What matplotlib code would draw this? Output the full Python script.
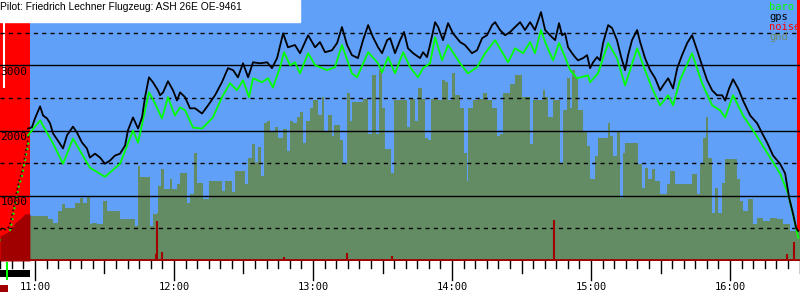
"""Flight log barogram: gps / baro altitude, terrain and engine noise."""

import matplotlib

matplotlib.use("Agg")
import matplotlib.pyplot as plt
from matplotlib.patches import Rectangle

# all times are minutes after 11:00, altitudes in metres
title = "Pilot: Friedrich Lechner Flugzeug: ASH 26E OE-9461"

gps_t = [
    -3.0, -1.3, 0.0, 2.2, 3.5, 5.2, 6.5, 7.8, 9.9, 12.1,
    13.8, 16.4, 18.1, 20.3, 22.4, 23.7, 25.9, 28.1, 30.2, 32.4,
    34.5, 36.7, 38.9, 40.1, 42.3, 44.5, 46.2, 47.5, 49.2, 50.9,
    53.1, 54.0, 55.3, 57.4, 59.6, 61.3, 62.6, 64.8, 66.9, 69.1,
    72.1, 74.7, 77.7, 80.7, 83.3, 85.5, 87.6, 89.8, 92.0, 94.1,
    97.1, 100.2, 102.3, 104.5, 107.1, 109.2, 112.2, 114.4, 117.9, 120.9,
    123.0, 125.2, 128.2, 130.4, 132.5, 134.7, 136.8, 139.4, 141.6, 143.8,
    145.9, 148.1, 149.8, 152.0, 153.3, 155.4, 157.6, 159.3, 161.0, 163.2,
    166.2, 167.5, 169.2, 170.5, 172.7, 174.0, 176.1, 178.3, 180.4, 183.5,
    185.6, 188.6, 190.8, 193.0, 195.1, 197.3, 198.6, 200.7, 202.9, 205.1,
    207.2, 209.4, 211.5, 213.7, 215.8, 218.4, 220.2, 222.3, 224.5, 226.2,
    227.5, 228.8, 230.1, 231.8, 233.1, 234.4, 236.6, 238.3, 239.6, 240.9,
    242.6, 243.9, 245.2, 247.4, 249.1, 251.2, 253.0, 254.7, 256.0, 257.7,
    259.9, 261.2, 263.3, 265.5, 267.7, 269.8, 271.1, 273.3, 275.4, 277.2,
    279.3, 281.5, 283.6, 285.8, 287.9, 290.1, 292.3, 294.4, 296.6, 297.9,
    299.6, 301.3, 303.5, 305.6, 308.7, 311.7, 313.9, 316.0, 318.6, 321.6,
    323.8, 325.5, 327.2, 328.5, 329.4,
]
gps_alt = [
    2030, 2050, 2185, 2370, 2230, 2185, 2110, 1955, 1845, 1725,
    1925, 2060, 1970, 1815, 1725, 1585, 1645, 1585, 1490, 1540,
    1615, 1645, 1770, 2000, 2200, 2030, 2200, 2510, 2815, 2740,
    2615, 2540, 2585, 2755, 2615, 2460, 2585, 2510, 2340, 2340,
    2260, 2385, 2540, 2740, 2955, 2925, 2815, 3030, 2815, 3045,
    3030, 3045, 2955, 3110, 3490, 3275, 3310, 3185, 3460, 3275,
    3355, 3200, 3230, 3340, 3585, 3310, 3155, 3110, 3385, 3615,
    3430, 3275, 3185, 3385, 3415, 3185, 3385, 3510, 3260, 3185,
    3110, 3200, 3125, 3310, 3660, 3585, 3385, 3645, 3490, 3355,
    3310, 3185, 3230, 3415, 3460, 3615, 3660, 3540, 3460, 3510,
    3585, 3660, 3540, 3660, 3540, 3815, 3540, 3460, 3385, 3645,
    3460, 3490, 3275, 3185, 3125, 3075, 3110, 3155, 2955, 3045,
    3125, 3075, 3340, 3615, 3570, 3385, 3125, 2925, 3155, 3385,
    3540, 3355, 3110, 2925, 2800, 2615, 2690, 2800, 2645, 2955,
    3155, 3340, 3460, 3230, 3000, 2770, 2615, 2540, 2540, 2460,
    2645, 2785, 2645, 2460, 2230, 2110, 1955, 1815, 1615, 1490,
    1340, 970, 725, 510, 460,
]

baro_t = [
    -3.0, 2.2, 7.8, 12.1, 16.4, 23.7, 30.2, 36.7, 42.3, 44.5,
    49.2, 51.8, 54.8, 57.4, 60.4, 62.6, 64.8, 68.2, 72.1, 76.8,
    80.7, 84.2, 87.2, 89.8, 92.4, 94.1, 98.0, 100.6, 102.7, 105.8,
    107.5, 110.1, 112.2, 114.4, 117.9, 120.9, 126.1, 129.5, 132.5, 136.8,
    139.0, 143.8, 148.1, 149.8, 152.4, 155.4, 158.9, 161.9, 165.3, 167.5,
    170.5, 172.7, 175.7, 178.3, 183.5, 186.9, 190.8, 194.3, 198.6, 204.2,
    207.2, 210.7, 213.7, 215.8, 218.4, 220.2, 223.6, 226.2, 228.8, 231.0,
    234.0, 238.7, 239.6, 243.0, 247.4, 251.2, 254.7, 259.9, 263.3, 266.4,
    269.8, 273.3, 275.4, 278.4, 283.6, 287.9, 292.3, 295.7, 297.9, 301.3,
    305.6, 310.0, 316.0, 321.6, 325.1, 328.1, 329.4,
]
baro_alt = [
    1925, 2155, 1800, 1490, 1875, 1430, 1290, 1490, 2000, 1815,
    2585, 2415, 2185, 2510, 2230, 2355, 2310, 2045, 2030, 2200,
    2510, 2725, 2615, 2770, 2510, 2800, 2740, 2800, 2660, 2970,
    3200, 3000, 3045, 2875, 3185, 3000, 2925, 2970, 3310, 2875,
    2815, 3200, 3030, 2890, 3125, 2875, 3200, 2970, 2815, 2955,
    3030, 3430, 3075, 3310, 3030, 2875, 2970, 3185, 3385, 3045,
    3260, 3185, 3355, 3185, 3540, 3355, 3075, 3340, 3125, 2925,
    2800, 2845, 2740, 2875, 3340, 3110, 2690, 3260, 2925, 2645,
    2385, 2540, 2385, 2770, 3185, 2725, 2385, 2310, 2200, 2540,
    2230, 2000, 1660, 1340, 1030, 570, 355,
]

# engine climb before release (sparse fixes)
climb_t = [-15.1, -12.1, -10.8, -9.5, -8.2, -6.9, -5.6, -4.3, -3.5, -2.6]
climb_baro = [320, 320, 460, 690, 925, 1155, 1310, 1540, 1690, 1845]
climb_gps = [480, 480, 560, 770, 1000, 1230, 1380, 1620, 1770, 1950]

gnd_t = [
    -2.2, 5.6, 7.8, 9.9, 11.7, 13.0, 17.3, 19.4, 20.7, 22.4,
    23.7, 24.6, 26.8, 29.4, 31.1, 36.7, 43.2, 44.5, 45.3, 49.6,
    50.9, 52.7, 53.1, 54.4, 55.7, 58.3, 59.1, 61.3, 62.6, 65.6,
    66.9, 68.6, 69.9, 72.5, 75.1, 80.7, 82.0, 85.0, 86.3, 90.7,
    92.0, 93.7, 95.0, 96.3, 97.6, 98.9, 100.2, 101.4, 103.6, 104.9,
    107.1, 108.8, 110.1, 111.4, 113.1, 114.4, 115.7, 117.0, 118.7, 120.0,
    122.2, 123.9, 124.8, 126.5, 128.2, 129.1, 131.7, 133.0, 134.7, 136.0,
    136.8, 141.6, 143.8, 145.5, 147.2, 148.5, 149.8, 151.1, 153.7, 155.0,
    160.6, 161.9, 164.0, 165.3, 167.1, 168.4, 169.7, 171.0, 174.0, 175.7,
    177.0, 178.3, 180.0, 181.3, 183.5, 185.2, 186.5, 186.9, 189.1, 191.2,
    193.4, 195.1, 197.3, 199.4, 200.7, 202.0, 205.1, 207.2, 210.2, 213.7,
    215.0, 219.3, 220.2, 221.5, 223.6, 226.6, 227.9, 229.7, 231.0, 231.8,
    233.1, 234.4, 236.6, 238.3, 239.6, 241.8, 243.0, 247.4, 248.2, 249.5,
    251.2, 252.5, 253.8, 254.7, 260.3, 262.0, 263.3, 264.6, 266.4, 267.7,
    269.8, 272.8, 274.1, 276.3, 283.6, 285.8, 287.1, 288.4, 289.7, 290.5,
    292.3, 293.6, 294.9, 296.6, 297.9, 303.1, 304.3, 305.6, 307.8, 310.0,
    311.7, 314.3, 317.3, 320.3, 322.9, 325.9, 330.2,
]
gnd_alt = [
    690, 650, 585, 770, 880, 815, 890, 970, 890, 1000,
    570, 585, 570, 920, 770, 650, 540, 1460, 1280, 540,
    720, 740, 1150, 1415, 1110, 1260, 1110, 1185, 1350, 890,
    1030, 1650, 1200, 950, 1230, 1080, 1230, 1050, 1385, 1185,
    1585, 1800, 1510, 1740, 1310, 2110, 2150, 1970, 2050, 1880,
    2030, 1690, 2150, 2120, 2200, 2280, 1815, 2150, 2340, 2460,
    2230, 2510, 1970, 2230, 1920, 2080, 1850, 1490, 2570, 2150,
    2430, 2490, 1950, 2850, 1950, 2920, 2350, 1720, 1350, 2460,
    2050, 2490, 2150, 2650, 2490, 1880, 1850, 2490, 2460, 2770,
    2740, 2460, 2880, 2540, 2340, 1650, 1230, 2350, 2460, 2490,
    2570, 2460, 2350, 1920, 1950, 2570, 2720, 2850, 2510, 1800,
    2460, 2615, 2510, 2200, 2460, 1490, 2310, 2800, 2340, 2920,
    2815, 2310, 2000, 1770, 1260, 1615, 1880, 2120, 1920, 1615,
    1970, 970, 1660, 1815, 1490, 1120, 1430, 1260, 1415, 1230,
    1030, 1185, 1385, 1185, 1340, 1030, 1490, 1890, 2200, 1585,
    740, 1120, 740, 1200, 1570, 1260, 920, 770, 950, 570,
    660, 615, 660, 650, 570, 460, 460,
]

# engine noise level (0..1000)
noise_t = [52.2, 52.7, 54.8, 92.8, 95.8, 105.8, 107.5, 112.2, 124.3, 134.7,
           154.1, 176.1, 194.3, 224.0, 324.6, 327.7]
noise_v = [27, 154, 35, 8, 4, 8, 15, 4, 8, 31,
           19, 8, 4, 158, 27, 73]
engine_t = [-15.1, -10.8, -8.6, -6.5, -4.3, -2.2]
engine_v = [96, 115, 146, 161, 181, 181]

engine_periods = [(-15.1, -2.2), (328.8, 330.2)]
release_t = -12.1
hour_ticks = [0, 60, 120, 180, 240, 300]
hour_labels = ["11:00", "12:00", "13:00", "14:00", "15:00", "16:00"]
alt_labels = [1000, 2000, 3000]

BLUE = "#60a0f8"
RED = "#ff0000"
DARK_RED = "#a00000"
GND = "#648c64"
GREEN = "#00ff00"
MONO = "DejaVu Sans Mono"

W, H, AX_H = 800, 300, 261
fig = plt.figure(figsize=(W / 100, H / 100), dpi=100)
ax = fig.add_axes([0, 1 - AX_H / H, 1, AX_H / H])
ax.set_facecolor(BLUE)
ax.set_xlim(-15.1, 330.2)
ax.set_ylim(0, 4000)
ax.set_xticks([])
ax.set_yticks([])
for s in ax.spines.values():
    s.set_visible(False)


def below(px):
    """Pixel row under the axes -> axes fraction."""
    return (AX_H - px) / AX_H


for a, b in engine_periods:
    ax.axvspan(a, b, color=RED, lw=0, zorder=0.5)

# terrain
ax.fill_between(gnd_t, gnd_alt, step="post", color=GND, lw=0, zorder=1)

# grid
for v in [1000, 2000, 3000]:
    ax.axhline(v, color="black", lw=1, zorder=3)
for v in [500, 1500, 2500, 3500]:
    ax.axhline(v, color="black", lw=1, ls=(0, (3, 3)), zorder=3)
for v in alt_labels:
    ax.text(-15.0, v - 25, str(v), va="top", ha="left", fontsize=8,
            family=MONO, zorder=6)

# white marker in the pre-flight strip
ax.vlines(-13.4, 2650, 4000, color="white", lw=1.5, zorder=2)

# altitude traces
ax.plot(climb_t, climb_baro, color=GREEN, ls=":", lw=1.5, zorder=4)
ax.plot(climb_t, climb_gps, color="#300000", ls=":", lw=1.2, zorder=4)
ax.plot(baro_t, baro_alt, color=GREEN, lw=1.3, zorder=4)
ax.plot(gps_t, gps_alt, color="black", lw=1.3, zorder=5)

# noise on its own scale
axn = ax.twinx()
axn.set_ylim(0, 1000)
axn.axis("off")
axn.fill_between(engine_t, engine_v, color=DARK_RED, lw=0)
axn.vlines(noise_t, 0, noise_v, color=DARK_RED, lw=1.5)
axn.axhline(3, color=DARK_RED, lw=2)

# time axis ticks drawn under the plot
xt = ax.get_xaxis_transform()
for m in range(-15, 331, 5):
    if m % 60 == 0:
        low = 280
    elif m % 30 == 0:
        low = 273
    else:
        low = 268
    ax.plot([m, m], [below(AX_H), below(low)], color="black", lw=1,
            transform=xt, clip_on=False)
for m, lab in zip(hour_ticks, hour_labels):
    ax.text(m, below(287), lab, transform=xt, ha="center", va="center",
            fontsize=7.5, family=MONO)

# status bars under the pre-flight strip
a, b = engine_periods[0]
ax.add_patch(Rectangle((a, below(277)), b - a, 7 / AX_H, transform=xt,
                       color="black", clip_on=False, lw=0))
ax.add_patch(Rectangle((release_t - 0.6, below(280)), 1.2, 18 / AX_H,
                       transform=xt, color=GREEN, clip_on=False, lw=0))
ax.add_patch(Rectangle((a, below(292)), 3.4, 7 / AX_H, transform=xt,
                       color=DARK_RED, clip_on=False, lw=0))

# title box
fig.patches.append(Rectangle((0, 1 - 22 / H), 300 / W, 22 / H,
                             transform=fig.transFigure, color="white",
                             zorder=10))
fig.text(0.0, 1 - 2 / H, title, ha="left", va="top", fontsize=7.4,
         family="Liberation Sans", zorder=11)

# legend
for i, (lab, col) in enumerate([("baro", GREEN), ("gps", "black"),
                                 ("noise", RED), ("gnd", "#6f8a62")]):
    fig.text(769 / W, 1 - (2 + 10 * i) / H, lab, color=col, ha="left",
             va="top", fontsize=7.5, family=MONO, zorder=11)

fig.savefig("out.png", dpi=100)
